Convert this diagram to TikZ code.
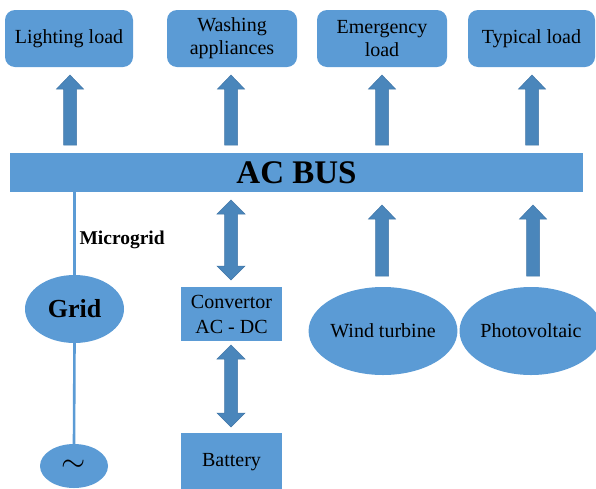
\documentclass[tikz,border=0pt]{standalone}
\usepackage{fontspec}
\setmainfont{Liberation Serif}
\usetikzlibrary{calc,shapes.geometric}
\definecolor{boxblue}{HTML}{5B9BD5}
\definecolor{arrblue}{HTML}{4A86BB}
\definecolor{arredge}{HTML}{4277A8}
\newcommand{\upblock}[3]{% x, ybottom, ytop
  \filldraw[arrowfill] (#1-6.5,#2) -- (#1-6.5,#3+14) -- (#1-13.5,#3+14) -- (#1,#3) -- (#1+13.5,#3+14) -- (#1+6.5,#3+14) -- (#1+6.5,#2) -- cycle;}
\newcommand{\dblblock}[3]{% x, ytop, ybottom
  \filldraw[arrowfill] (#1,#2) -- (#1+14,#2+14) -- (#1+6.5,#2+14) -- (#1+6.5,#3-14) -- (#1+14,#3-14) -- (#1,#3) -- (#1-14,#3-14) -- (#1-6.5,#3-14) -- (#1-6.5,#2+14) -- (#1-14,#2+14) -- cycle;}
\begin{document}
\begin{tikzpicture}[x=1pt,y=-1pt,
  txt/.style={font=\fontsize{20}{23}\selectfont, text=black, align=center},
  loadbox/.style={txt, fill=boxblue, rounded corners=10pt, minimum height=57pt, inner sep=0pt},
  sqbox/.style={txt, fill=boxblue, inner sep=0pt},
  oval/.style={txt, ellipse, fill=boxblue, inner sep=0pt},
  arrowfill/.style={fill=arrblue, draw=arredge, line width=0.5pt, line join=miter},
  gridline/.style={draw=boxblue, line width=2.6pt}]
\useasboundingbox (0,0) rectangle (596,488);
\clip (0,0) rectangle (596,488);
% load boxes
\node[loadbox, minimum width=128pt] (light) at (69,38.5) {Lighting load};
\node[loadbox, minimum width=130pt] (wash) at (232,38.5) {Washing\\appliances};
\node[loadbox, minimum width=130pt] (emerg) at (382,38.5) {Emergency\\load};
\node[loadbox, minimum width=127pt] (typ) at (531.5,38.5) {Typical load};
% bus
\node[sqbox, minimum width=573pt, minimum height=39pt, font=\fontsize{33}{33}\selectfont\bfseries] (bus) at (296.5,172.5) {AC BUS};
% arrows to loads
\upblock{70}{145}{75}
\upblock{231}{145}{75}
\upblock{382}{145}{75}
\upblock{532}{145}{75}
% grid side
\node[oval, minimum width=99pt, minimum height=68pt, font=\fontsize{26}{26}\selectfont\bfseries] (grid) at (74.5,309) {Grid};
\node[oval, minimum width=68pt, minimum height=44pt] (tilde) at (74,466) {\scalebox{1.5}{\fontsize{20}{20}\selectfont$\sim$}};
\draw[gridline] (bus.south -| grid.north) -- (grid.north);
\draw[gridline] (grid.south) -- (tilde.north);
\node[txt, font=\fontsize{19.5}{20}\selectfont\bfseries, anchor=west] (micro) at (76,240) {Microgrid};
% convertor and battery
\node[sqbox, minimum width=101pt, minimum height=54pt, font=\fontsize{20}{25}\selectfont] (conv) at (231.5,314) {Convertor\\AC - DC};
\node[sqbox, minimum width=101pt, minimum height=58pt] (batt) at (231.5,462) {Battery};
\dblblock{231}{200}{280}
\dblblock{231}{345}{427}
% sources
\node[oval, minimum width=132pt, minimum height=88pt] (wind) at (383,331) {Wind turbine};
\node[oval, minimum width=130pt, minimum height=88pt] (pv) at (531,331) {Photovoltaic};
\upblock{382}{276}{205}
\upblock{533}{276}{205}
\end{tikzpicture}
\end{document}
